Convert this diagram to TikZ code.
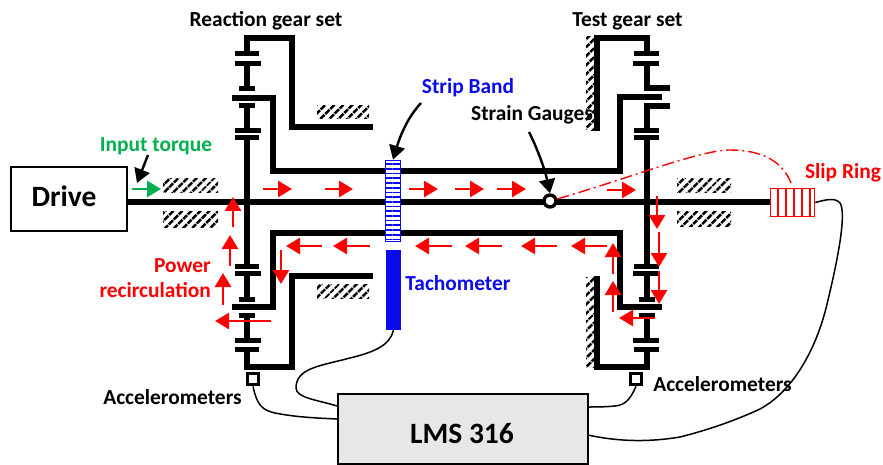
\documentclass[tikz,border=0pt]{standalone}
\usepackage{fontspec}
\setmainfont{Carlito}
\usetikzlibrary{arrows.meta,patterns.meta}
\definecolor{stripblue}{RGB}{10,10,235}
\definecolor{torquegreen}{RGB}{0,176,80}
\definecolor{boxgray}{RGB}{231,231,231}
\tikzset{
    gearline/.style={line width=5.6pt},
    gearbar/.style={line width=5pt},
    axleline/.style={line width=6pt},
    ground/.style={draw=none, pattern={Lines[angle=45, distance=6.5pt, line width=2.8pt]}},
    powerflow/.style={red, line width=2.6pt, -{Triangle[length=14pt, width=16pt]}},
    callout/.style={black, line width=2.4pt, -{Triangle[length=14pt, width=16pt]}},
    wire/.style={black, line width=1.5pt},
    caption/.style={font=\fontsize{21.4}{24}\selectfont\bfseries, inner sep=0pt},
    bigcaption/.style={font=\fontsize{29.5}{32}\selectfont\bfseries, inner sep=0pt},
    sensor/.style={draw, line width=3.6pt, fill=white, minimum size=11pt, inner sep=0pt}
}
\begin{document}
\begin{tikzpicture}[x=1pt, y=-1pt]
    \useasboundingbox (0, 0) rectangle (883, 465);
    % housing hatching
    \fill[ground] (163, 179) rectangle (218, 193);
    \fill[ground] (163, 212) rectangle (218, 227);
    \fill[ground] (677, 179) rectangle (731, 193);
    \fill[ground] (677, 212) rectangle (731, 226);
    \fill[ground] (317, 106) rectangle (369, 119);
    \fill[ground] (317, 284) rectangle (369, 298);
    \fill[ground] (586, 37) rectangle (596, 131);
    \fill[ground] (586, 277) rectangle (596, 367);
    % shafts
    \draw[axleline] (127, 202) -- (770, 202);
    \draw[gearline] (232, 98) -- (273, 98) -- (273, 171) -- (620, 171) -- (620, 97) -- (662, 97);
    \draw[gearline] (232, 307) -- (273, 307) -- (273, 233) -- (620, 233) -- (620, 307) -- (662, 307);
    % reaction gear set
    \draw[gearline] (373, 127) -- (292, 127) -- (292, 38) -- (247, 38) -- (247, 54);
    \draw[gearline] (373, 276) -- (292, 276) -- (292, 367) -- (247, 367) -- (247, 349);
    \draw[gearbar] (235, 54) -- (259, 54);
    \draw[gearbar] (235, 64) -- (261, 64);
    \draw[gearline] (247, 64) -- (247, 89);
    \draw[gearbar] (239, 89) -- (255, 89);
    \draw[gearbar] (239, 106) -- (255, 106);
    \draw[gearline] (247, 106) -- (247, 131);
    \draw[gearbar] (235, 131) -- (261, 131);
    \draw[gearbar] (235, 138) -- (259, 138);
    \draw[gearline] (247, 138) -- (247, 266);
    \draw[gearbar] (235, 266) -- (259, 266);
    \draw[gearbar] (235, 273) -- (261, 273);
    \draw[gearline] (247, 273) -- (247, 299);
    \draw[gearbar] (239, 299) -- (255, 299);
    \draw[gearbar] (239, 315) -- (255, 315);
    \draw[gearline] (247, 315) -- (247, 340);
    \draw[gearbar] (235, 340) -- (261, 340);
    \draw[gearbar] (235, 349) -- (259, 349);
    % test gear set
    \draw[gearline] (597, 131) -- (597, 38) -- (647, 38) -- (647, 54);
    \draw[gearline] (597, 276) -- (597, 367) -- (647, 367) -- (647, 349);
    \draw[gearbar] (634, 54) -- (659, 54);
    \draw[gearbar] (633, 64) -- (659, 64);
    \draw[gearline] (670, 88) -- (647, 88) -- (647, 64);
    \draw[gearline] (670, 106) -- (647, 106) -- (647, 131);
    \draw[gearbar] (634, 131) -- (659, 131);
    \draw[gearbar] (634, 138) -- (659, 138);
    \draw[gearline] (647, 138) -- (647, 266);
    \draw[gearbar] (634, 266) -- (659, 266);
    \draw[gearbar] (633, 273) -- (659, 273);
    \draw[gearline] (647, 273) -- (647, 299);
    \draw[gearbar] (639, 299) -- (655, 299);
    \draw[gearbar] (639, 315) -- (655, 315);
    \draw[gearline] (647, 315) -- (647, 340);
    \draw[gearbar] (633, 340) -- (659, 340);
    \draw[gearbar] (634, 349) -- (659, 349);
    % parts
    \node[draw, line width=2pt, fill=white, minimum width=116pt, minimum height=63pt] (drive) at (68.5, 199) {};
    \node[bigcaption] (drivelabel) at (64, 196) {Drive};
    \node[draw=stripblue, line width=1.8pt, preaction={fill=white}, pattern={Lines[angle=0, distance=4.7pt, line width=1.7pt]}, pattern color=stripblue, minimum width=15pt, minimum height=81pt, inner sep=0pt] (strip) at (393, 201) {};
    \node[fill=stripblue, minimum width=15pt, minimum height=80pt, inner sep=0pt] (tacho) at (393.5, 290) {};
    \node[circle, draw, line width=3.4pt, fill=white, minimum size=12pt, inner sep=0pt] (gauge) at (550, 201) {};
    \node[draw=red, line width=1.5pt, fill=white, minimum width=44pt, minimum height=28pt, inner sep=0pt] (slip) at (792.5, 202.5) {};
    \draw[red, line width=1.3pt] (778, 189) -- (778, 216);
    \draw[red, line width=1.3pt] (786, 189) -- (786, 216);
    \draw[red, line width=1.3pt] (794, 189) -- (794, 216);
    \draw[red, line width=1.3pt] (802, 189) -- (802, 216);
    \draw[red, line width=1.3pt] (810, 189) -- (810, 216);
    \node[sensor] (accleft) at (253, 379) {};
    \node[sensor] (accright) at (636, 379) {};
    \node[draw, line width=2pt, fill=boxgray, minimum width=250pt, minimum height=70pt] (lms) at (462.5, 428.5) {};
    \node[bigcaption] (lmslabel) at (462, 434) {LMS 316};
    % wires
    \coordinate (lmstacho) at (337, 406);
    \coordinate (lmsleft) at (337, 419);
    \coordinate (lmsright) at (588, 407);
    \coordinate (lmsslip) at (588, 435);
    \draw[wire] (tacho.south) .. controls (390, 345) and (375, 352) .. (350, 358) .. controls (320, 366) and (296, 368) .. (296, 388) .. controls (296, 398) and (318, 400) .. (lmstacho);
    \draw[wire] (accleft.south) .. controls (257, 405) and (262, 410) .. (275, 413) .. controls (295, 417) and (315, 418) .. (lmsleft);
    \draw[wire] (accright.south) .. controls (630, 400) and (625, 405) .. (615, 406) .. controls (605, 407) and (595, 407) .. (lmsright);
    \draw[wire] (slip.east) .. controls (825, 200) and (835, 197) .. (840, 203) .. controls (846, 212) and (840, 250) .. (828, 300) .. controls (818, 345) and (795, 390) .. (760, 409) .. controls (730, 423) and (700, 432) .. (680, 437) .. controls (650, 442) and (620, 442) .. (lmsslip);
    % power flow
    \draw[powerflow] (263, 189) -- (292, 189);
    \draw[powerflow] (325, 189) -- (353, 189);
    \draw[powerflow] (409, 189) -- (438, 189);
    \draw[powerflow] (455, 189) -- (484, 189);
    \draw[powerflow] (497, 189) -- (526, 189);
    \draw[powerflow] (607, 190) -- (636, 190);
    \draw[powerflow] (657, 196) -- (657, 229);
    \draw[powerflow] (659, 232) -- (659, 267);
    \draw[powerflow] (659, 271) -- (659, 304);
    \draw[powerflow] (655, 318) -- (619, 318);
    \draw[powerflow] (613, 312) -- (613, 281);
    \draw[powerflow] (613, 274) -- (613, 243);
    \draw[powerflow] (607, 246) -- (571, 246);
    \draw[powerflow] (557, 246) -- (521, 246);
    \draw[powerflow] (502, 246) -- (465, 246);
    \draw[powerflow] (452, 246) -- (415, 246);
    \draw[powerflow] (370, 246) -- (333, 246);
    \draw[powerflow] (322, 246) -- (286, 246);
    \draw[powerflow] (281, 250) -- (281, 284);
    \draw[powerflow] (271, 321) -- (215, 321);
    \draw[powerflow] (223, 305) -- (223, 273);
    \draw[powerflow] (230, 266) -- (230, 235);
    \draw[powerflow] (233, 227) -- (233, 197);
    \draw[torquegreen, line width=2.6pt, -{Triangle[length=14pt, width=16pt]}] (132, 189) -- (161, 189);
    \draw[red, line width=1.4pt, dash pattern=on 12pt off 4pt on 2pt off 4pt] (gauge) .. controls (630, 178) and (700, 150) .. (730, 150) .. controls (760, 150) and (782, 160) .. (791, 183);
    % labels
    \node[caption] (reactionlabel) at (266, 21) {Reaction gear set};
    \node[caption] (testlabel) at (627.5, 21) {Test gear set};
    \node[caption, stripblue] (striplabel) at (468, 88) {Strip Band};
    \node[caption] (gaugelabel) at (532, 115) {Strain Gauges};
    \node[caption, torquegreen] (torquelabel) at (156, 146) {Input torque};
    \node[caption, red] (sliplabel) at (843, 173) {Slip Ring};
    \node[caption, red, align=right, anchor=east, font=\fontsize{21.4}{25}\selectfont\bfseries] (powerlabel) at (211, 278) {Power\\recirculation};
    \node[caption, stripblue] (tacholabel) at (458, 283) {Tachometer};
    \node[caption] (leftacclabel) at (172.5, 397) {Accelerometers};
    \node[caption] (rightacclabel) at (722.5, 384) {Accelerometers};
    % callouts
    \coordinate (torquetip) at (137, 183);
    \coordinate (stripstart) at (421, 103);
    \coordinate (gaugestart) at (529, 132);
    \draw[callout] (148, 155) -- (torquetip);
    \draw[callout] (stripstart) .. controls (410, 115) and (402, 130) .. (strip.north);
    \draw[callout] (gaugestart) .. controls (538, 150) and (545, 170) .. (gauge.north);
\end{tikzpicture}
\end{document}
